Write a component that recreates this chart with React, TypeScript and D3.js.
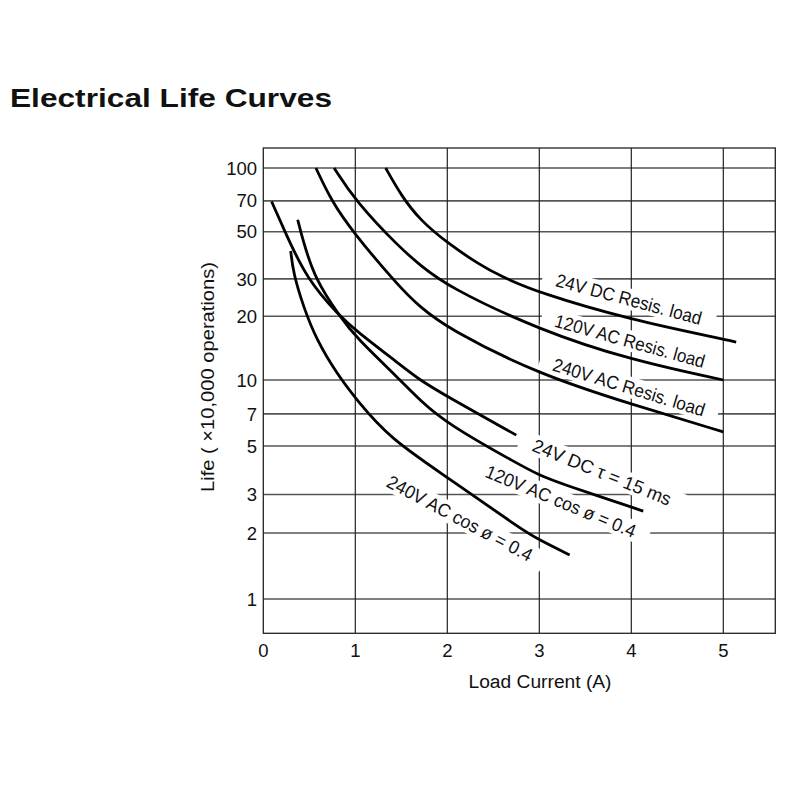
import React from "react";
import * as d3 from "d3";

// ---- data ----
const xTicks = [0, 1, 2, 3, 4, 5];
const yTicks = [1, 2, 3, 5, 7, 10, 20, 30, 50, 70, 100];
const yTickLabels = ["1", "2", "3", "5", "7", "10", "20", "30", "50", "70", "100"];

const dc24Resis = [
  [1.33, 100], [1.5, 74], [1.7, 57], [2.0, 44.3], [2.35, 35], [2.57, 31], [3.0, 25.7],
  [4.0, 19.2], [5.0, 15.6], [5.14, 15.1],
];
const ac120Resis = [
  [0.77, 100], [1.0, 70], [1.49, 41.8], [1.7, 35], [2.0, 27.6], [3.0, 17.2],
  [4.0, 12.4], [5.0, 10.0],
];
const ac240Resis = [
  [0.572, 100], [0.74, 70], [0.97, 50], [1.49, 27.1], [1.7, 22.2], [2.0, 17.5],
  [3.0, 10.6], [4.0, 7.75], [5.0, 5.8],
];
const dc24Tau = [
  [0.09, 69.5], [0.236, 50], [0.47, 30], [0.83, 20], [1.0, 17.2], [1.49, 11.8],
  [1.7, 10.0], [2.0, 8.4], [2.75, 5.6],
];
const ac120Cos = [
  [0.374, 57], [0.43, 45.7], [0.56, 30], [0.83, 20], [1.0, 16], [1.49, 10.0],
  [1.7, 8.1], [2.0, 6.3], [2.79, 4.09], [3.0, 3.68], [3.22, 3.38], [4.13, 2.52],
];
const ac240Cos = [
  [0.298, 40.6], [0.326, 31.9], [0.435, 22.2], [0.58, 15.4], [0.8, 10.7],
  [1.015, 8.1], [1.377, 5.4], [2.0, 3.6], [2.79, 2.1], [3.0, 1.86],
  [3.33, 1.59],
];

const seriesList = [dc24Resis, ac120Resis, ac240Resis, dc24Tau, ac120Cos, ac240Cos];
const seriesNames = [
  "24V DC Resis. load",
  "120V AC Resis. load",
  "240V AC Resis. load",
  "24V DC \u03c4 = 15 ms",
  "120V AC cos \u00f8 = 0.4",
  "240V AC cos \u00f8 = 0.4",
];
// label anchor (data coords), rotation, width
const labelAt = [
  [3.975, 24.1], [3.986, 15.3], [3.975, 9.29], [3.682, 3.8], [3.236, 2.8], [2.138, 2.34],
];
const labelAngle = [15, 15.5, 17, 22, 22.5, 28];
const labelWidth = [150, 155, 158, 148, 161, 162];

const FONT = "'Liberation Sans', Arial, Helvetica, sans-serif";

export default function App() {
  const x = d3.scaleLinear().domain([0, 5]).range([263.3, 723.3]);
  const y = d3.scaleLog().domain([1, 10, 100]).range([599, 380, 168]);
  const left = 263.3, right = 775.3, top = 148, bottom = 633.3;

  const line = d3
    .line<number[]>()
    .x((d) => x(d[0]))
    .y((d) => y(d[1]))
    .curve(d3.curveBasis);

  return (
    <svg width={800} height={800} style={{ display: "block", position: "absolute", left: 0, top: 0 }}>
      <rect x={0} y={0} width={800} height={800} fill="#fff" />
      <text x={10} y={107} fontFamily={FONT} fontWeight="bold" fontSize={26.5} textLength={322} lengthAdjust="spacingAndGlyphs" fill="#111">
        Electrical Life Curves
      </text>

      {/* gridlines */}
      {yTicks.map((v) => (
        <line key={"h" + v} x1={left} x2={right} y1={y(v)} y2={y(v)} stroke="#555" strokeWidth={1.6} />
      ))}
      {xTicks.filter((v) => v > 0).map((v) => (
        <line key={"v" + v} x1={x(v)} x2={x(v)} y1={top} y2={bottom} stroke="#222" strokeWidth={1.2} />
      ))}

      {/* label masks */}
      {seriesNames.map((name, i) => {
        const w = labelWidth[i];
        return (
          <g key={"m" + i} transform={`translate(${x(labelAt[i][0])},${y(labelAt[i][1])}) rotate(${labelAngle[i]})`}>
            <rect x={-w / 2 - 14} y={-10.5} width={w + 28} height={21} fill="#fff" />
          </g>
        );
      })}

      <rect x={left} y={top} width={right - left} height={bottom - top} fill="none" stroke="#222" strokeWidth={1.3} />

      {/* curves */}
      {seriesList.map((s, i) => (
        <path key={"c" + i} d={line(s as any) || ""} fill="none" stroke="#000" strokeWidth={2.8} strokeLinecap="butt" />
      ))}

      {/* curve labels */}
      {seriesNames.map((name, i) => (
        <g key={"l" + i} transform={`translate(${x(labelAt[i][0])},${y(labelAt[i][1])}) rotate(${labelAngle[i]})`}>
          <text x={0} y={0} dy="0.36em" textAnchor="middle" fontFamily={FONT} fontSize={18.5} textLength={labelWidth[i]} lengthAdjust="spacingAndGlyphs" fill="#111">
            {name}
          </text>
        </g>
      ))}

      {/* y tick labels */}
      {yTicks.map((v, i) => (
        <text key={"yt" + v} x={257} y={y(v)} dy="0.36em" textAnchor="end" fontFamily={FONT} fontSize={18.5} fill="#111">
          {yTickLabels[i]}
        </text>
      ))}
      {/* x tick labels */}
      {xTicks.map((v) => (
        <text key={"xt" + v} x={x(v)} y={657} textAnchor="middle" fontFamily={FONT} fontSize={18.5} fill="#111">
          {String(v)}
        </text>
      ))}

      <text x={540} y={688} textAnchor="middle" fontFamily={FONT} fontSize={18} textLength={143} lengthAdjust="spacingAndGlyphs" fill="#111">
        Load Current (A)
      </text>
      <text transform="translate(214,377) rotate(-90)" textAnchor="middle" fontFamily={FONT} fontSize={18} textLength={230} lengthAdjust="spacingAndGlyphs" fill="#111">
        Life ( ×10,000 operations)
      </text>
    </svg>
  );
}
